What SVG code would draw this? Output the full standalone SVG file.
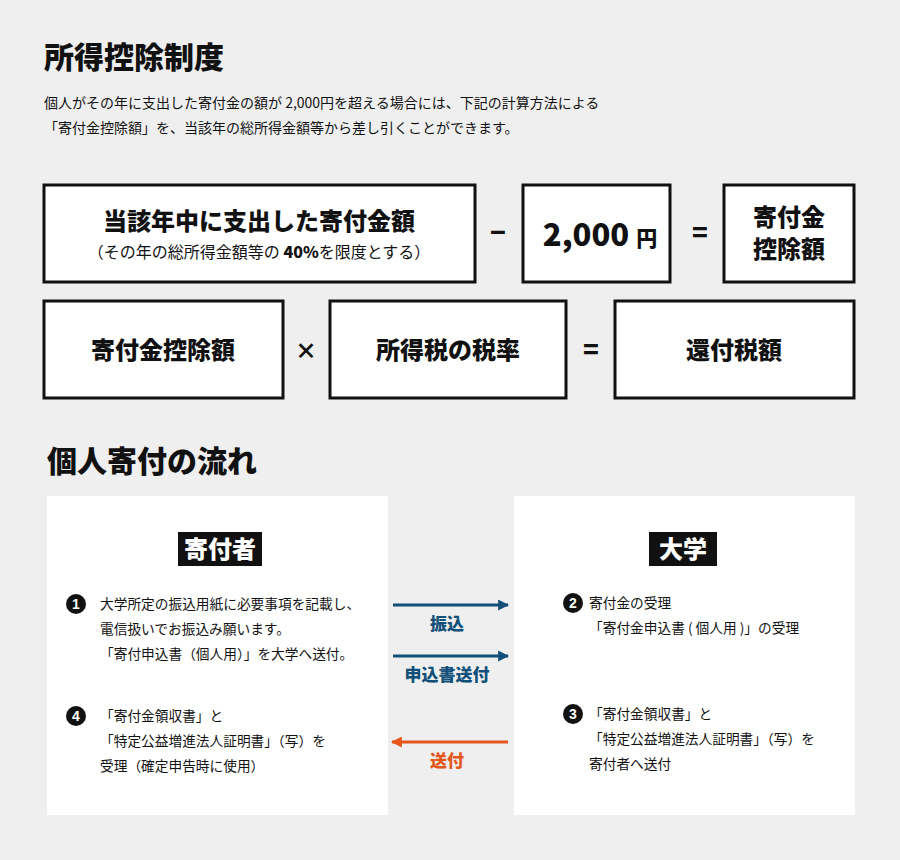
<svg xmlns="http://www.w3.org/2000/svg" width="900" height="860" viewBox="0 0 900 860">
<style>
text{font-family:"Noto Sans CJK JP","Noto Sans",sans-serif;fill:#111}
.h{font-size:30px;font-weight:900}
.p{font-size:14px}
.box{fill:#fff;stroke:#111;stroke-width:3}
.bt{font-size:24px;font-weight:900;text-anchor:middle}
.op{font-size:26px;font-weight:900;text-anchor:middle}
.t{font-size:13.7px}
.n{fill:#111}
.nt{fill:#fff;font-size:14px;font-weight:900;text-anchor:middle;font-family:"Liberation Sans",sans-serif}
.lab{font-size:17px;font-weight:900;text-anchor:middle}
</style>
<defs>
<marker id="ab" viewBox="0 0 10 10" refX="9" refY="5" markerWidth="11" markerHeight="11" markerUnits="userSpaceOnUse" orient="auto"><path d="M0,0 L10,5 L0,10 Z" fill="#124f79"/></marker>
<marker id="ao" viewBox="0 0 10 10" refX="9" refY="5" markerWidth="11" markerHeight="11" markerUnits="userSpaceOnUse" orient="auto"><path d="M0,0 L10,5 L0,10 Z" fill="#e5561a"/></marker>
</defs>
<rect width="900" height="860" fill="#efefef"/>
<text class="h" x="44" y="68">所得控除制度</text>
<text class="p" x="44" y="108">個人がその年に支出した寄付金の額が 2,000円を超える場合には、下記の計算方法による</text>
<text class="p" x="44" y="133">「寄付金控除額」を、当該年の総所得金額等から差し引くことができます。</text>

<g id="n1"><rect class="box" x="44" y="185" width="431" height="97"/>
<text class="bt" x="259" y="230">当該年中に支出した寄付金額</text>
<text x="259" y="258" text-anchor="middle" font-size="16">（その年の総所得金額等の <tspan font-weight="900">40%</tspan>を限度とする）</text></g>
<text class="op" x="498" y="242">−</text>
<g id="n2"><rect class="box" x="523" y="185" width="147" height="97"/>
<text class="bt" x="600" y="246" style="font-size:31px">2,000 <tspan style="font-size:21px">円</tspan></text></g>
<text class="op" x="700" y="242">=</text>
<g id="n3"><rect class="box" x="724" y="185" width="130" height="97"/>
<text class="bt" x="789" y="226">寄付金</text><text class="bt" x="789" y="258">控除額</text></g>

<g id="n4"><rect class="box" x="44" y="301" width="239" height="97"/><text class="bt" x="163" y="359">寄付金控除額</text></g>
<text class="op" x="306" y="359" style="font-size:22px">×</text>
<g id="n5"><rect class="box" x="330" y="301" width="236" height="97"/><text class="bt" x="448" y="359">所得税の税率</text></g>
<text class="op" x="591" y="359">=</text>
<g id="n6"><rect class="box" x="615" y="301" width="239" height="97"/><text class="bt" x="734" y="359">還付税額</text></g>

<text class="h" x="47" y="472">個人寄付の流れ</text>

<g id="donor"><rect x="47" y="496" width="341" height="319" fill="#fff"/>
<rect x="178" y="532" width="84" height="34" fill="#111"/>
<text x="220" y="558" text-anchor="middle" font-size="24" font-weight="900" style="fill:#fff">寄付者</text>
<circle class="n" cx="76" cy="604" r="10"/><text class="nt" x="76" y="609">1</text>
<text class="t" x="100" y="609">大学所定の振込用紙に必要事項を記載し、</text>
<text class="t" x="100" y="634">電信扱いでお振込み願います。</text>
<text class="t" x="100" y="659">「寄付申込書（個人用）」を大学へ送付。</text>
<circle class="n" cx="76" cy="716" r="10"/><text class="nt" x="76" y="721">4</text>
<text class="t" x="100" y="721">「寄付金領収書」と</text>
<text class="t" x="100" y="746">「特定公益増進法人証明書」（写）を</text>
<text class="t" x="100" y="771">受理（確定申告時に使用）</text></g>

<g id="univ"><rect x="514" y="496" width="341" height="319" fill="#fff"/>
<rect x="649" y="532" width="68" height="34" fill="#111"/>
<text x="683" y="558" text-anchor="middle" font-size="24" font-weight="900" style="fill:#fff">大学</text>
<circle class="n" cx="573" cy="603" r="10"/><text class="nt" x="573" y="608">2</text>
<text class="t" x="589" y="608">寄付金の受理</text>
<text class="t" x="589" y="633">「寄付金申込書 ( 個人用 )」の受理</text>
<circle class="n" cx="573" cy="714" r="10"/><text class="nt" x="573" y="719">3</text>
<text class="t" x="589" y="719">「寄付金領収書」と</text>
<text class="t" x="589" y="744">「特定公益増進法人証明書」（写）を</text>
<text class="t" x="589" y="769">寄付者へ送付</text></g>

<g id="connectors">
<line x1="393" y1="605" x2="508" y2="605" stroke="#124f79" stroke-width="3" marker-end="url(#ab)"/>
<text class="lab" x="447" y="630" style="fill:#124f79">振込</text>
<line x1="393" y1="656" x2="508" y2="656" stroke="#124f79" stroke-width="3" marker-end="url(#ab)"/>
<text class="lab" x="447" y="681" style="fill:#124f79">申込書送付</text>
<line x1="508" y1="742" x2="392" y2="742" stroke="#e5561a" stroke-width="3" marker-end="url(#ao)"/>
<text class="lab" x="447" y="767" style="fill:#e5561a">送付</text>
</g>
</svg>
